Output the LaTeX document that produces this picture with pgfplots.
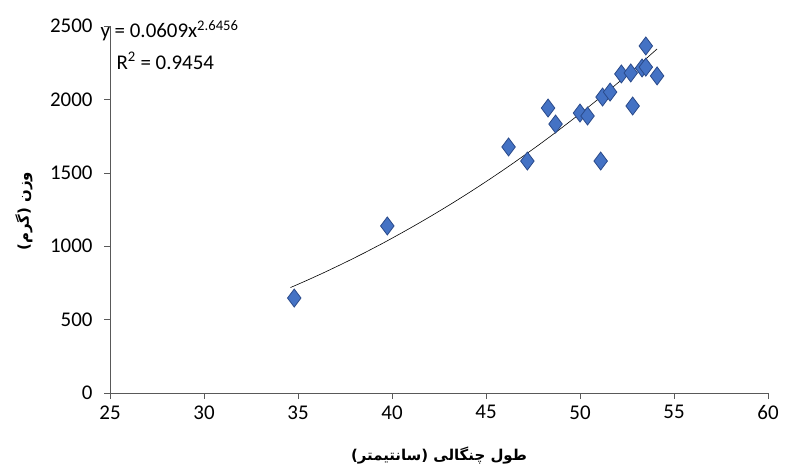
\documentclass[border=0pt]{standalone}
\usepackage{pgfplots}
\pgfplotsset{compat=1.18}
\usepackage{fontspec}
\setmainfont{Carlito}
\TeXXeTstate=1
\newfontfamily\arabicfont[Script=Arabic]{DejaVu Sans}
\definecolor{mk}{HTML}{4472C4}
\definecolor{mkb}{HTML}{2A4A8A}
\begin{document}
\begin{tikzpicture}[x=1bp,y=1bp]
\useasboundingbox (0,0) rectangle (789,473);
\begin{axis}[at={(110bp,80bp)},anchor=origin,scale only axis,width=658bp,height=367bp,
 xmin=25,xmax=60,ymin=0,ymax=2500,xtick={25,30,...,60},ytick={0,500,...,2500},
 axis x line=bottom, axis y line=left, axis line style={-,gray!70!black},
 tick align=outside, tick style={gray!70!black}, major tick length=6bp,
 ticklabel style={font=\fontsize{21}{24}\selectfont},
 yticklabel style={xshift=-8bp}, xticklabel style={yshift=-3bp},
 /pgf/number format/assume math mode=true,
 /pgf/number format/1000 sep={},
 clip=false]
\addplot[black,semithick,domain=34.6:54.1,samples=60] {0.0609*x^2.6456};
\addplot[only marks,mark=diamond*,mark size=9bp,mark options={fill=mk,draw=mkb,line width=0.8bp}] coordinates {
(34.8,647)(39.75,1138)(46.2,1676)(47.2,1580)(48.3,1941)(48.7,1832)(50.0,1907)(50.4,1887)
(51.1,1580)(51.2,2016)(51.6,2050)(52.8,1955)(52.2,2173)(52.7,2180)(53.3,2214)(53.5,2220)(53.5,2364)(54.1,2160)};
\end{axis}
\node[anchor=west,font=\fontsize{21}{24}\selectfont] at (97,442) {y = 0.0609x\textsuperscript{2.6456}};
\node[anchor=west,font=\fontsize{21}{24}\selectfont] at (113,412) {R\textsuperscript{2} = 0.9454};
\node[font=\arabicfont\bfseries\fontsize{15}{18}\selectfont] at (439,17) {\beginR طول چنگالی (سانتیمتر)\endR};
\node[rotate=90,font=\arabicfont\bfseries\fontsize{15}{18}\selectfont] at (24,262) {\beginR وزن (گرم)\endR};
\end{tikzpicture}
\end{document}
